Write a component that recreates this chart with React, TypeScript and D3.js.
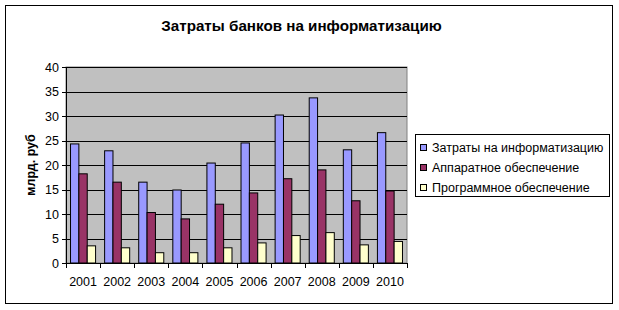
import React from "react";
import * as d3 from "d3";

const years = ["2001", "2002", "2003", "2004", "2005", "2006", "2007", "2008", "2009", "2010"];
const totalCosts = [24.3, 22.9, 16.5, 14.9, 20.4, 24.5, 30.2, 33.7, 23.1, 26.6];
const hardware = [18.2, 16.5, 10.3, 9.0, 12.0, 14.3, 17.2, 19.0, 12.7, 14.7];
const software = [3.5, 3.1, 2.1, 2.1, 3.1, 4.1, 5.6, 6.2, 3.7, 4.4];
const seriesNames = ["Затраты на информатизацию", "Аппаратное обеспечение", "Программное обеспечение"];
const seriesColors = ["#9999FF", "#993366", "#FFFFCC"];
const yTicks = [0, 5, 10, 15, 20, 25, 30, 35, 40];

export default function App() {
  const W = 619, H = 310;
  const left = 66, right = 407, top = 67, bottom = 263;
  const x = d3.scaleBand().domain(years).range([left, right]).paddingInner(0).paddingOuter(0);
  const y = d3.scaleLinear().domain([0, 40]).range([bottom, top]);
  const series = [totalCosts, hardware, software];
  const bw = x.bandwidth();
  const barW = bw * 0.245;
  const groupW = barW * 3;
  const font = "Arial, 'Liberation Sans', sans-serif";

  return (
    <svg width={W} height={H} style={{ position: "absolute", left: 0, top: 0 }} fontFamily={font}>
      <rect x={0} y={0} width={W} height={H} fill="#fff" />
      <rect x={5.5} y={5.5} width={607} height={298} fill="#fff" stroke="#000" strokeWidth={1} />
      <text x={301.5} y={30.5} textAnchor="middle" fontSize={15.2} fontWeight="bold" fill="#000">
        Затраты банков на информатизацию
      </text>
      <rect x={left} y={top} width={right - left} height={bottom - top} fill="#C0C0C0" stroke="#808080" strokeWidth={1} />
      {yTicks.slice(1).map((t) => (
        <line key={t} x1={left} x2={right} y1={Math.round(y(t)) + 0.5} y2={Math.round(y(t)) + 0.5} stroke="#000" strokeWidth={1} />
      ))}
      {years.map((yr, i) =>
        series.map((s, k) => {
          const bx = (x(yr) as number) + (bw - groupW) / 2 + k * barW;
          return (
            <rect
              key={yr + k}
              x={bx}
              y={y(s[i])}
              width={barW}
              height={y(0) - y(s[i])}
              fill={seriesColors[k]}
              stroke="#000"
              strokeWidth={1}
            />
          );
        })
      )}
      <line x1={left + 0.5} x2={left + 0.5} y1={top} y2={bottom} stroke="#000" />
      <line x1={left - 4} x2={right} y1={bottom + 0.5} y2={bottom + 0.5} stroke="#000" />
      {yTicks.map((t) => (
        <g key={t}>
          <line x1={left - 4} x2={left} y1={Math.round(y(t)) + 0.5} y2={Math.round(y(t)) + 0.5} stroke="#000" />
          <text x={left - 7} y={y(t) + 4.5} textAnchor="end" fontSize={12.5} fill="#000">
            {t}
          </text>
        </g>
      ))}
      {years.map((yr) => (
        <text key={yr} x={(x(yr) as number) + bw / 2} y={286} textAnchor="middle" fontSize={12.5} fill="#000">
          {yr}
        </text>
      ))}
      {[...years.map((yr) => x(yr) as number), right].map((px, i) => (
        <line key={i} x1={Math.round(px) + 0.5} x2={Math.round(px) + 0.5} y1={bottom} y2={bottom + 5} stroke="#000" />
      ))}
      <text
        transform={`translate(35, ${165}) rotate(-90)`}
        textAnchor="middle"
        fontSize={12.5}
        fontWeight="bold"
        fill="#000"
      >
        млрд. руб
      </text>
      <rect x={415.5} y={134.5} width={194} height={62} fill="#fff" stroke="#000" />
      {seriesNames.map((n, k) => (
        <g key={n}>
          <rect x={420.5} y={144.5 + k * 20} width={6} height={6} fill={seriesColors[k]} stroke="#000" />
          <text x={432} y={152 + k * 20} fontSize={12.5} fill="#000">
            {n}
          </text>
        </g>
      ))}
    </svg>
  );
}
